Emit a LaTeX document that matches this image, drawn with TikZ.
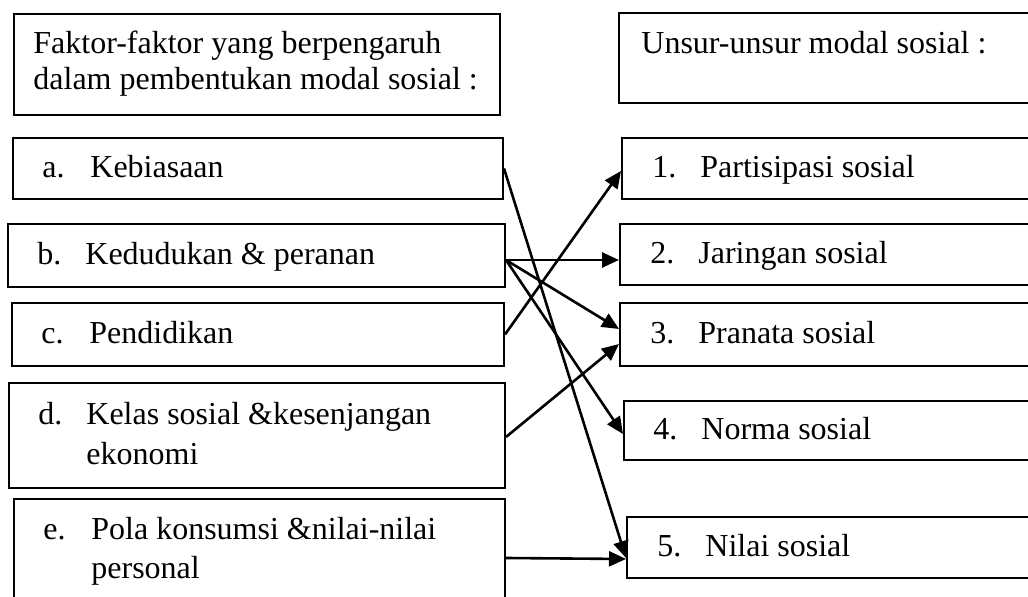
\documentclass[tikz,border=0pt]{standalone}
\usepackage{fontspec}
\setmainfont{Liberation Serif}
\usetikzlibrary{calc,arrows.meta}
\newcommand{\nomor}[1]{\makebox[24pt][l]{#1}}

\begin{document}
\begin{tikzpicture}[x=0.5pt,y=-0.5pt,
    kotak/.style={draw, line width=1pt, rectangle, anchor=north west, inner sep=0pt},
    teks/.style={anchor=base west, inner sep=0pt, font=\fontsize{16}{19}\selectfont},
    panah/.style={line width=1.3pt, -{Triangle[length=8.5pt,width=7.5pt]}}]
		%%%%% START %%%%%
		\clip (0,0) rectangle (1028,597);
		
		% kolom kiri: faktor
		\node[kotak, minimum width=243pt, minimum height=50.5pt] (fkt) at (13,13) {};
		\node[kotak, minimum width=245pt, minimum height=30.5pt] (fa) at (12,137) {};
		\node[kotak, minimum width=248.5pt, minimum height=31.5pt] (fb) at (7,223) {};
		\node[kotak, minimum width=246pt, minimum height=31.5pt] (fc) at (11,302) {};
		\node[kotak, minimum width=248pt, minimum height=52.5pt] (fd) at (8,382) {};
		\node[kotak, minimum width=245.5pt, minimum height=59pt] (fe) at (13,498) {};
		
		% kolom kanan: unsur
		\node[kotak, minimum width=211pt, minimum height=45pt] (uns) at (618,12) {};
		\node[kotak, minimum width=209.5pt, minimum height=30.5pt] (u1) at (621,137) {};
		\node[kotak, minimum width=210.5pt, minimum height=30.5pt] (u2) at (619,223) {};
		\node[kotak, minimum width=210.5pt, minimum height=31.5pt] (u3) at (619,302) {};
		\node[kotak, minimum width=208.5pt, minimum height=29.5pt] (u4) at (623,400) {};
		\node[kotak, minimum width=207pt, minimum height=30.5pt] (u5) at (626,516) {};
		
		% teks
		\node[teks] (tfkt1) at (33,54) {Faktor-faktor yang berpengaruh};
		\node[teks] (tfkt2) at (33,90) {dalam pembentukan modal sosial :};
		\node[teks] (ta) at (42,177.5) {\nomor{a.}Kebiasaan};
		\node[teks] (tb) at (37,264.5) {\nomor{b.}Kedudukan \& peranan};
		\node[teks] (tc) at (41,343.5) {\nomor{c.}Pendidikan};
		\node[teks] (td1) at (38,424.5) {\nomor{d.}Kelas sosial \&kesenjangan};
		\node[teks] (td2) at (86,464.5) {ekonomi};
		\node[teks] (te1) at (43,540) {\nomor{e.}Pola konsumsi \&nilai-nilai};
		\node[teks] (te2) at (91,579) {personal};
		
		\node[teks] (tuns) at (641,54) {Unsur-unsur modal sosial :};
		\node[teks] (t1) at (652,177.5) {\nomor{1.}Partisipasi sosial};
		\node[teks] (t2) at (650,263.5) {\nomor{2.}Jaringan sosial};
		\node[teks] (t3) at (650,343.5) {\nomor{3.}Pranata sosial};
		\node[teks] (t4) at (653,439.5) {\nomor{4.}Norma sosial};
		\node[teks] (t5) at (657,556.5) {\nomor{5.}Nilai sosial};
		
		% panah
		\draw[panah] (fa.east) -- ($(u5.west)+(0,10.5)$);
		\draw[panah] ($(fb.east)+(0,4.5)$) -- ($(u2.west)+(0,5.5)$);
		\draw[panah] ($(fb.east)+(0,4.5)$) -- ($(u3.west)+(0,-5.5)$);
		\draw[panah] ($(fb.east)+(0,4.5)$) -- ($(u4.west)+(0,3.5)$);
		\draw[panah] (fc.east) -- ($(u1.west)+(0,2.5)$);
		\draw[panah] ($(fd.east)+(0,1.5)$) -- ($(u3.west)+(0,9.5)$);
		\draw[panah] (fe.east) -- ($(u5.west)+(0,11.5)$);
		
		%%%%% END %%%%%
	\end{tikzpicture}
\end{document}
